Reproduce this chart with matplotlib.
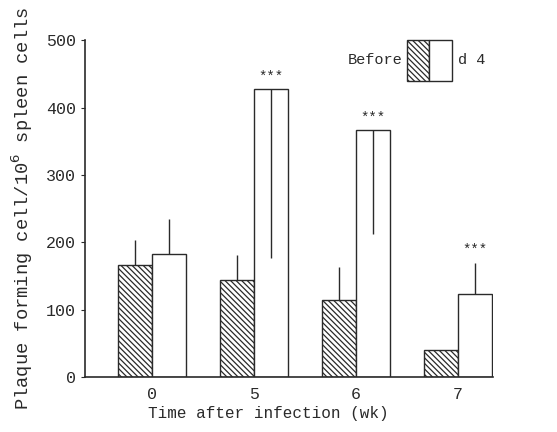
import matplotlib
matplotlib.use("Agg")
import matplotlib.pyplot as plt
import numpy as np
from matplotlib.patches import Rectangle

weeks = ["0", "5", "6", "7"]
before = [166, 144, 114, 40]
before_err = [37, 37, 50, 0]
d4 = [182, 427, 367, 124]
d4_err_low = [0, 250, 155, 0]
d4_err_up = [53, 0, 0, 46]
stars = ["", "***", "***", "***"]

plt.rcParams['font.family'] = ['Liberation Mono', 'DejaVu Sans Mono']
plt.rcParams['hatch.linewidth'] = 0.9
ink = '#2a2a2a'
hatch = '\\' * 6

fig = plt.figure(figsize=(5.57, 4.32), dpi=100)
ax = fig.add_axes([0.153, 0.127, 0.732, 0.78])

x = np.arange(len(weeks))
w = 0.335
ax.bar(x - w/2, before, w, color='white', edgecolor=ink, hatch=hatch, linewidth=1.0)
ax.bar(x + w/2, d4, w, color='white', edgecolor=ink, linewidth=1.0)
ax.errorbar(x - w/2, before, yerr=[[0]*4, before_err], fmt='none', ecolor=ink, elinewidth=1.0, capsize=0)
ax.errorbar(x + w/2, d4, yerr=[d4_err_low, d4_err_up], fmt='none', ecolor=ink, elinewidth=1.0, capsize=0)

for i, s in enumerate(stars):
    if s:
        top = d4[i] + d4_err_up[i]
        ax.text(x[i] + w/2, top + 8, s, ha='center', va='bottom', fontsize=10, color=ink)

ax.set_xlim(-0.657, 3.343)
ax.set_ylim(0, 500)
ax.set_yticks([0, 100, 200, 300, 400, 500])
ax.set_xticks(x)
ax.set_xticklabels(weeks)
ax.tick_params(axis='both', labelsize=12, colors=ink, length=3)
ax.tick_params(axis='x', length=0, pad=7)
for s in ['top', 'right']:
    ax.spines[s].set_visible(False)
for s in ['left', 'bottom']:
    ax.spines[s].set_color(ink)
    ax.spines[s].set_linewidth(1.2)

ax.set_ylabel("Plaque forming cell/10$^6$ spleen cells", fontsize=13.5, color=ink, labelpad=8)
ax.set_xlabel("Time after infection (wk)", fontsize=11.5, color=ink, labelpad=4)
ax.xaxis.set_label_coords(0.45, -0.085)

# legend box
lx0 = 2.5
hw = 0.22
ax.add_patch(Rectangle((lx0, 440), hw, 60, facecolor='white', edgecolor=ink, hatch=hatch, linewidth=1.0, clip_on=False))
ax.add_patch(Rectangle((lx0 + hw, 440), hw, 60, facecolor='white', edgecolor=ink, linewidth=1.0, clip_on=False))
ax.text(lx0 - 0.04, 470, "Before", ha='right', va='center', fontsize=11, color=ink)
ax.text(lx0 + 2*hw + 0.06, 470, "d 4", ha='left', va='center', fontsize=11, color=ink)

fig.savefig("out.png", dpi=100)
